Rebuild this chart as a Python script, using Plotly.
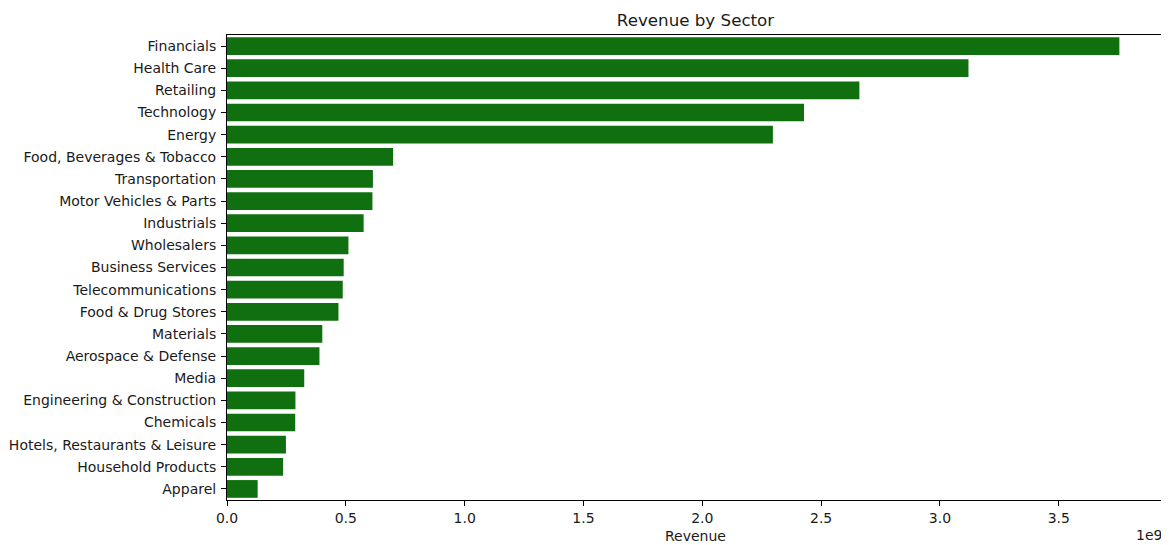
import plotly.graph_objects as go

sectors = ["Financials", "Health Care", "Retailing", "Technology", "Energy",
           "Food, Beverages & Tobacco", "Transportation", "Motor Vehicles & Parts",
           "Industrials", "Wholesalers", "Business Services", "Telecommunications",
           "Food & Drug Stores", "Materials", "Aerospace & Defense", "Media",
           "Engineering & Construction", "Chemicals", "Hotels, Restaurants & Leisure",
           "Household Products", "Apparel"]
revenue_billions = [3.755, 3.120, 2.661, 2.428, 2.297, 0.699, 0.614, 0.612, 0.575,
                    0.511, 0.491, 0.487, 0.469, 0.401, 0.389, 0.325, 0.288, 0.287,
                    0.248, 0.236, 0.129]
revenue = [v * 1e9 for v in revenue_billions]
tick_labels = ["0.0", "0.5", "1.0", "1.5", "2.0", "2.5", "3.0", "3.5"]
tick_values = [float(t) * 1e9 for t in tick_labels]

FONT = "DejaVu Sans"
TXT = "#1a1a1a"

# page body has an 8px margin; size the figure so it fits the 1169x545 window
W, H = 1161, 537
L, R, T, B = 219, 5, 27, 45

fig = go.Figure(go.Bar(
    x=revenue, y=sectors, orientation="h",
    marker=dict(color="#107010", line=dict(width=0)),
    width=0.8,
))

fig.update_layout(
    width=W, height=H,
    margin=dict(l=L, r=R, t=T, b=B, autoexpand=False),
    paper_bgcolor="white", plot_bgcolor="white",
    showlegend=False,
    font=dict(family=FONT, size=14, color=TXT),
    title=dict(text="Revenue by Sector", x=(L + (W - R)) / 2 / W, xanchor="center",
               y=1 - 12 / H, yanchor="middle", font=dict(size=16.7, color=TXT)),
    xaxis=dict(
        range=[0, max(revenue) * 1.05],
        tickvals=tick_values, ticktext=tick_labels,
        showgrid=False, zeroline=False, automargin=False,
        showline=True, linecolor="black", linewidth=1, mirror=True,
        ticks="outside", ticklen=5, tickcolor="black", tickwidth=1,
        tickfont=dict(size=14, color=TXT),
    ),
    yaxis=dict(
        type="category",
        range=[len(sectors) - 0.5, -0.5],
        showgrid=False, zeroline=False, automargin=False,
        showline=True, linecolor="black", linewidth=1, mirror=True,
        ticks="outside", ticklen=5, tickcolor="black", tickwidth=1,
        ticklabelstandoff=2,
        tickfont=dict(size=14, color=TXT),
    ),
    annotations=[
        dict(text="Revenue", xref="paper", yref="paper", x=0.5, y=0,
             xanchor="center", yanchor="middle", yshift=-36, showarrow=False,
             font=dict(size=14, color=TXT)),
        dict(text="1e9", xref="paper", yref="paper", x=1, y=0,
             xanchor="right", yanchor="middle", yshift=-35, showarrow=False,
             font=dict(size=14, color=TXT)),
    ],
)

fig.write_html("out.html")
